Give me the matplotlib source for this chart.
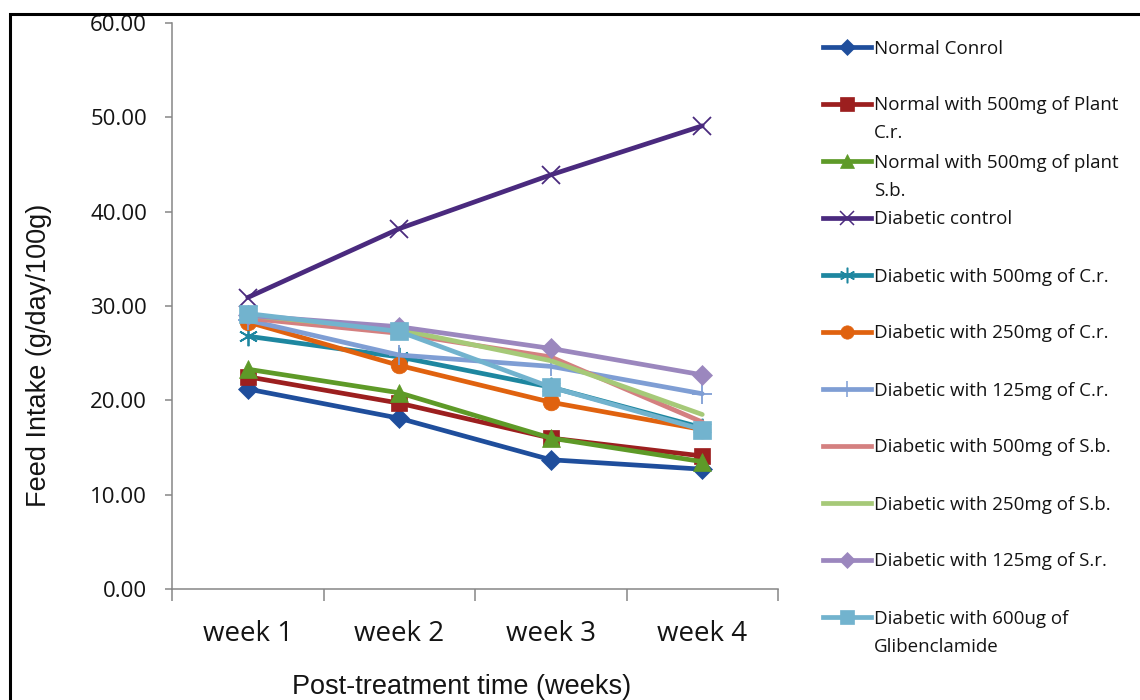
import matplotlib
matplotlib.use("Agg")
import matplotlib.pyplot as plt
from matplotlib.lines import Line2D
from matplotlib.patches import Rectangle
from matplotlib.ticker import FixedLocator, FormatStrFormatter

# feed intake (g/day/100g) per group, weeks 1-4
weeks = ["week 1", "week 2", "week 3", "week 4"]
normal_control = [21.2, 18.1, 13.7, 12.7]
normal_cr500 = [22.5, 19.7, 16.0, 14.1]
normal_sb500 = [23.3, 20.8, 16.0, 13.5]
diabetic_control = [30.9, 38.2, 43.9, 49.1]
diabetic_cr500 = [26.8, 24.6, 21.4, 17.1]
diabetic_cr250 = [28.3, 23.7, 19.8, 16.9]
diabetic_cr125 = [28.5, 24.8, 23.6, 20.7]
diabetic_sb500 = [28.7, 27.1, 24.6, 17.7]
diabetic_sb250 = [29.0, 27.5, 24.2, 18.5]
diabetic_sr125 = [29.0, 27.8, 25.5, 22.7]
diabetic_glib = [29.2, 27.3, 21.4, 16.9]

series = [
    ("Normal Conrol", normal_control, "#1f4e9c", "D", 10.5),
    ("Normal with 500mg of Plant\nC.r.", normal_cr500, "#9c1f1f", "s", 12),
    ("Normal with 500mg of plant\nS.b.", normal_sb500, "#5e9a28", "^", 13),
    ("Diabetic control", diabetic_control, "#4a2a7e", "x", 13),
    ("Diabetic with 500mg of C.r.", diabetic_cr500, "#1e87a0", (6, 2, 0), 14),
    ("Diabetic with 250mg of C.r.", diabetic_cr250, "#e0620f", "o", 12),
    ("Diabetic with 125mg of C.r.", diabetic_cr125, "#7f9ed4", "+", 14),
    ("Diabetic with 500mg of S.b.", diabetic_sb500, "#d48080", None, 0),
    ("Diabetic with 250mg of S.b.", diabetic_sb250, "#a6c978", None, 0),
    ("Diabetic with 125mg of S.r.", diabetic_sr125, "#9b87be", "D", 10.5),
    ("Diabetic with 600ug of\nGlibenclamide", diabetic_glib, "#72b3ce", "s", 13),
]

W, H = 1140, 700
fig = plt.figure(figsize=(W / 100, H / 100), dpi=100)
ax = fig.add_axes([172 / W, 1 - 589 / H, 606 / W, 566 / H])

x = list(range(len(weeks)))
for name, vals, col, mk, ms in series:
    thin = mk in ("x", "+", (6, 2, 0))
    ax.plot(x, vals, color=col, lw=3.4, marker=mk, markersize=ms,
            markeredgewidth=1.3 if thin else 0.5, markeredgecolor=col,
            solid_capstyle="round", zorder=3)

ax.set_xlim(-0.5, 3.5)
ax.set_ylim(0, 60)
ax.set_yticks(range(0, 61, 10))
ax.yaxis.set_major_formatter(FormatStrFormatter("%.2f"))

# tick marks sit between categories, labels at category centres
ax.xaxis.set_major_locator(FixedLocator([-0.5, 0.5, 1.5, 2.5, 3.5]))
ax.xaxis.set_major_formatter(plt.NullFormatter())
ax.xaxis.set_minor_locator(FixedLocator(x))
ax.set_xticklabels(weeks, minor=True)

spine_col = "#868686"
for s in ["top", "right"]:
    ax.spines[s].set_visible(False)
for s in ["left", "bottom"]:
    ax.spines[s].set_color(spine_col)
    ax.spines[s].set_linewidth(1.1)

ax.tick_params(axis="y", direction="out", length=5, width=1.1, color=spine_col,
               pad=13, labelsize=16, labelcolor="#141414", labelfontfamily="Open Sans")
ax.tick_params(axis="x", which="major", direction="out", length=8.5, width=1.1,
               color=spine_col)
ax.tick_params(axis="x", which="minor", length=0, pad=22, labelsize=20,
               labelcolor="#141414", labelfontfamily="Open Sans")

ax.set_ylabel("Feed Intake (g/day/100g)", fontsize=19.5, family="Liberation Sans",
              color="#141414")
ax.yaxis.set_label_coords(52 / W, 1 - 355 / H, transform=fig.transFigure)
ax.set_xlabel("Post-treatment time (weeks)", fontsize=19.5, family="Liberation Sans",
              color="#141414")
ax.xaxis.set_label_coords(462 / W, 1 - 674 / H, transform=fig.transFigure)

# legend drawn by hand so wrapped labels keep the first line level with the handle
for i, (name, vals, col, mk, ms) in enumerate(series):
    yc = 1 - (47 + 57 * i) / H
    thin = mk in ("x", "+", (6, 2, 0))
    fig.add_artist(Line2D([823 / W, 871 / W], [yc, yc], transform=fig.transFigure,
                          color=col, lw=3.4, marker=None))
    if mk is not None:
        fig.add_artist(Line2D([847 / W], [yc], transform=fig.transFigure, color=col,
                              marker=mk, markersize=ms * 0.8, lw=0,
                              markeredgewidth=1.1 if thin else 0.5,
                              markeredgecolor=col))
    for k, line in enumerate(name.split("\n")):
        fig.text(874 / W, yc - (6.5 + 28 * k) / H, line, fontsize=13.5,
                 family="Open Sans", color="#141414", va="baseline", ha="left")

# outer frame, cut by the right and bottom image edges
fig.add_artist(Rectangle((9.5 / W, -0.1), 1.2, 1.1 - 13.5 / H, transform=fig.transFigure,
                         fill=False, edgecolor="black", lw=2.2, clip_on=False))

fig.savefig("out.png", dpi=100)
